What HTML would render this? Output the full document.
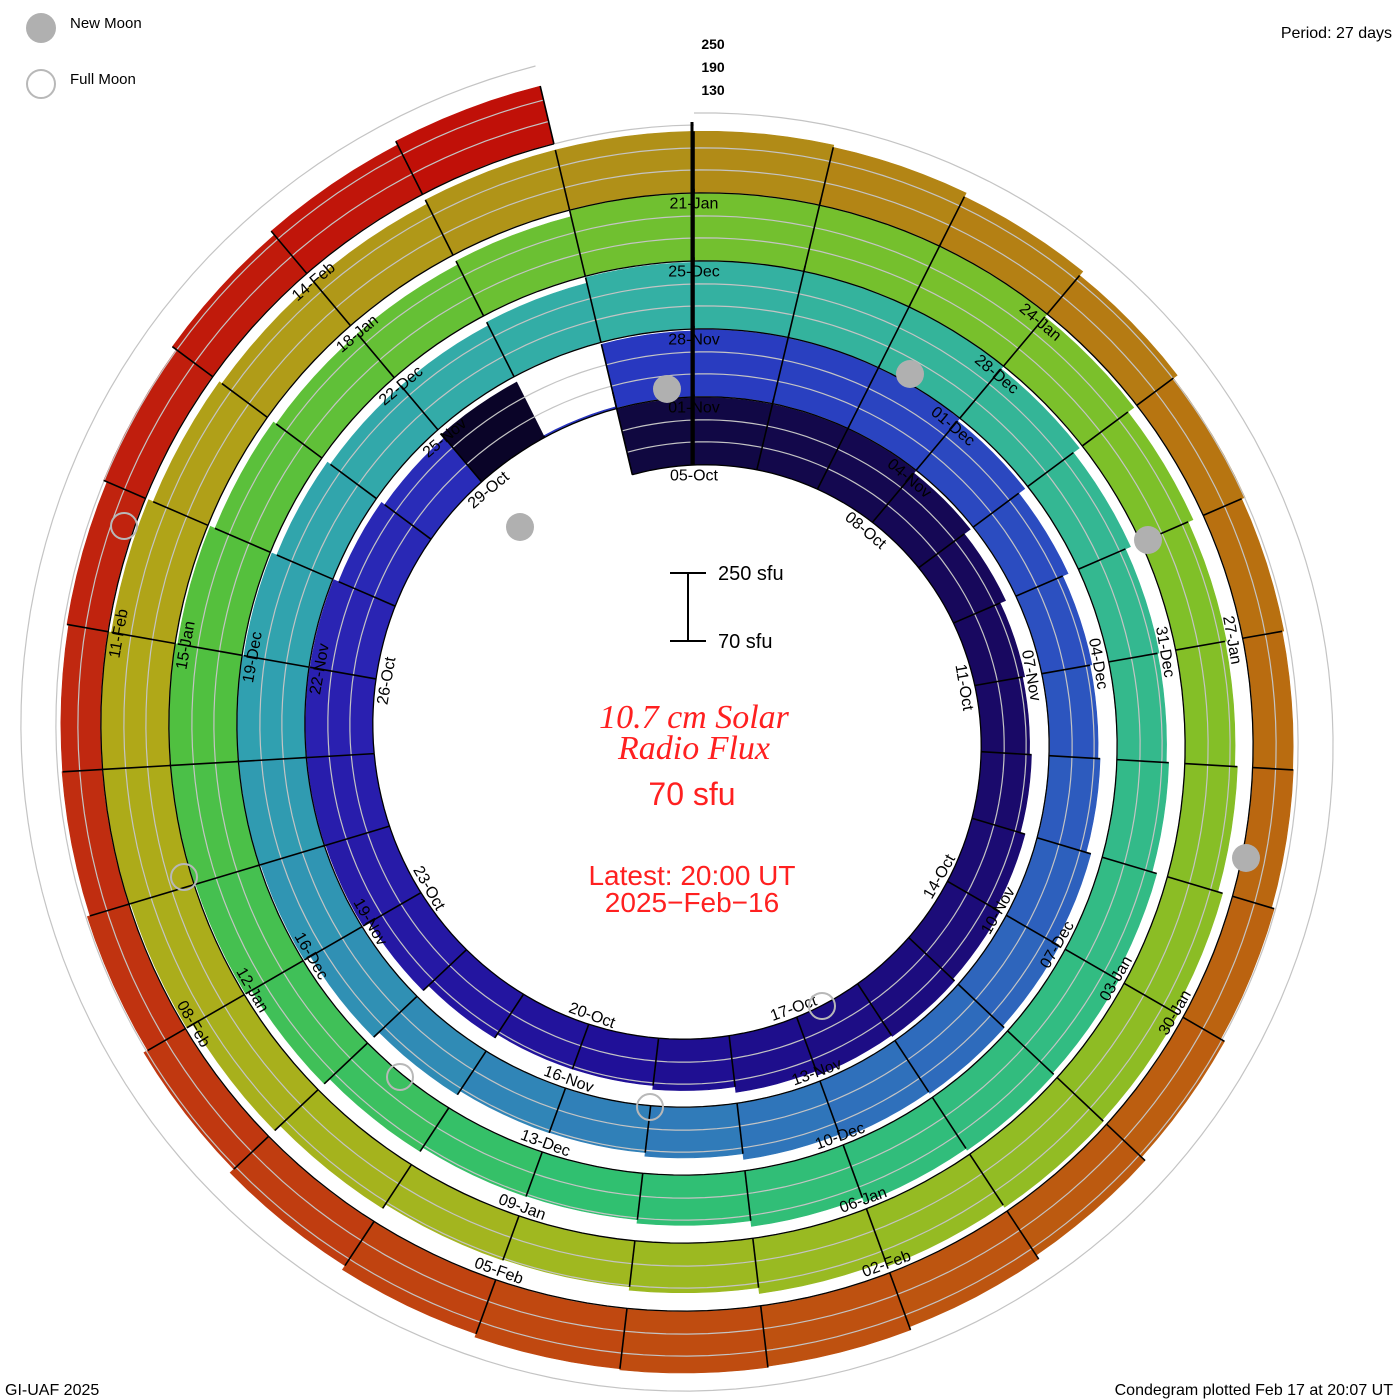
<!DOCTYPE html>
<html><head><meta charset="utf-8"><style>
html,body{margin:0;padding:0;background:#fff;}
svg{display:block;font-family:"Liberation Sans",sans-serif;}
</style></head><body>
<svg id="s" width="1400" height="1400" viewBox="0 0 1400 1400" xmlns="http://www.w3.org/2000/svg">
<rect width="1400" height="1400" fill="#fff"/>
<g id="bars"></g>
<g id="grid" fill="none" stroke="#c4c4c4" stroke-width="1.2"></g>
<g id="seps" stroke="#000" stroke-width="1.6"></g>
<g id="base" fill="none" stroke="#000" stroke-width="1.3"></g>
<line x1="692" y1="122" x2="692" y2="465" stroke="#000" stroke-width="3"/>
<g id="labels" font-size="16" fill="#000" text-anchor="middle"></g>
<g id="moons"></g>
<circle cx="41" cy="28" r="15" fill="#b0b0b0"/>
<text x="70" y="28" font-size="15" fill="#000">New Moon</text>
<circle cx="41" cy="84" r="14" fill="none" stroke="#b8b8b8" stroke-width="2"/>
<text x="70" y="84" font-size="15" fill="#000">Full Moon</text>
<text x="1392" y="38" font-size="16" text-anchor="end" fill="#000">Period: 27 days</text>
<g font-size="14" font-weight="bold" text-anchor="middle" fill="#000">
<text x="713" y="49">250</text><text x="713" y="72">190</text><text x="713" y="95">130</text></g>
<text x="5" y="1395" font-size="16" fill="#000">GI-UAF 2025</text>
<text x="1393" y="1395" font-size="16" text-anchor="end" fill="#000">Condegram plotted Feb 17 at 20:07 UT</text>
<g stroke="#000" stroke-width="2"><line x1="688" y1="573" x2="688" y2="641"/><line x1="670" y1="573" x2="706" y2="573"/><line x1="670" y1="641" x2="706" y2="641"/></g>
<text x="718" y="580" font-size="20" fill="#000">250 sfu</text>
<text x="718" y="648" font-size="20" fill="#000">70 sfu</text>
<g fill="#ff2020" text-anchor="middle">
<text x="694" y="728" font-size="34" font-style="italic" font-family="Liberation Serif,serif">10.7 cm Solar</text>
<text x="694" y="759" font-size="34" font-style="italic" font-family="Liberation Serif,serif">Radio Flux</text>
<text x="692" y="805" font-size="32">70 sfu</text>
<text x="692" y="885" font-size="28">Latest: 20:00 UT</text>
<text x="692" y="912" font-size="28">2025−Feb−16</text>
</g>
</svg>
<script>
var NS="http://www.w3.org/2000/svg",cx=694,cy=735,R0=270,K=68;
function P(t,off){var r=R0+K*t+off,a=t*2*Math.PI;return [cx+r*Math.sin(a),cy-r*Math.cos(a)];}
function el(n,at,p){var e=document.createElementNS(NS,n);for(var k in at)e.setAttribute(k,at[k]);p.appendChild(e);return e;}
var stops=[[0,"#100840"],[6,"#180860"],[15,"#201098"],[21,"#2a20b0"],[27,"#2838c0"],[33,"#2c50c0"],[42,"#3080b8"],[48,"#30a0b0"],[54,"#34b0a4"],[60,"#34b890"],[69,"#30c070"],[75,"#50c040"],[81,"#70c030"],[87,"#80c028"],[96,"#a0b820"],[102,"#b0a818"],[108,"#b09018"],[114,"#b87010"],[123,"#c04810"],[129,"#c02810"],[134,"#c01008"]];
function hx(c){return [parseInt(c.substr(1,2),16),parseInt(c.substr(3,2),16),parseInt(c.substr(5,2),16)];}
function col(d){for(var i=0;i<stops.length-1;i++){if(d<=stops[i+1][0]){var f=(d-stops[i][0])/(stops[i+1][0]-stops[i][0]);var a=hx(stops[i][1]),b=hx(stops[i+1][1]);return "rgb("+a.map(function(v,j){return Math.round(v+(b[j]-v)*f)}).join(",")+")";}}return stops[stops.length-1][1];}
var bars=document.getElementById("bars"),seps=document.getElementById("seps");
var N=135;
for(var d=0;d<N;d++){
 var t0=(d-1)/27,t1=d/27,tm=(d-0.5)/27;
 var h=60+9*Math.sin(d*0.7)+6*Math.sin(d*0.23+2);
 if(d>=108)h=51+11*Math.cos(4*Math.PI*tm);
 var c=col(d);
 if(d==0){h=85;}
 if(d==25){c="#0a0428";h=62;}
 if(d==26){h=2;}
 h=Math.max(2,Math.min(85,h));
 var pts=[],i;
 for(i=0;i<=6;i++)pts.push(P(t0+(t1-t0)*i/6,0));
 for(i=6;i>=0;i--)pts.push(P(t0+(t1-t0)*i/6,h));
 el("polygon",{points:pts.map(function(p){return p[0].toFixed(1)+","+p[1].toFixed(1)}).join(" "),fill:c,stroke:c,"stroke-width":0.6},bars);
 var a=P(t0,0),b=P(t0,h);el("line",{x1:a[0],y1:a[1],x2:b[0],y2:b[1]},seps);
 if(d==N-1){a=P(t1,0);b=P(t1,h);el("line",{x1:a[0],y1:a[1],x2:b[0],y2:b[1]},seps);}
}
var grid=document.getElementById("grid"),base=document.getElementById("base");
function spiral(off,g,ta,tb){var s="",n=Math.round((tb-ta)*180);for(var i=0;i<=n;i++){var p=P(ta+(tb-ta)*i/n,off);s+=(i?"L":"M")+p[0].toFixed(1)+","+p[1].toFixed(1);}el("path",{d:s},g);}
spiral(23,grid,-1/27,134/27);
spiral(45,grid,-1/27,134/27);
spiral(68,grid,-1/27,4);
spiral(80,grid,4,134/27);
spiral(0,base,-1/27,134/27);
var lab=document.getElementById("labels"),list=[];
var mlen={Oct:31,Nov:30,Dec:31,Jan:31,Feb:28};
var mo=["Oct","Nov","Dec","Jan","Feb"],mi=0,day=5;
for(var d=0;d<N;d++){
 if(d%3==0)list.push([d,(day<10?"0":"")+day+"-"+mo[mi]]);
 day++;if(day>mlen[mo[mi]]){day=1;mi++;}
}
list.forEach(function(x){
 var t=x[0]/27,p=P(t,-10),ang=(t*360)%360,rot=ang;
 if(ang>90&&ang<270)rot=ang-180;
 var e=el("text",{x:p[0].toFixed(1),y:p[1].toFixed(1),transform:"rotate("+rot.toFixed(1)+" "+p[0].toFixed(1)+" "+p[1].toFixed(1)+")",dy:"0.35em"},lab);
 e.textContent=x[1];
});
var mg=document.getElementById("moons");
[[667,389],[910,374],[520,527],[1148,540],[1246,858]].forEach(function(m){el("circle",{cx:m[0],cy:m[1],r:14,fill:"#b0b0b0"},mg);});
[[124,526],[184,877],[400,1077],[650,1107],[822,1006]].forEach(function(m){el("circle",{cx:m[0],cy:m[1],r:13,fill:"none",stroke:"#b8b8b8","stroke-width":2},mg);});
</script>
</body></html>
